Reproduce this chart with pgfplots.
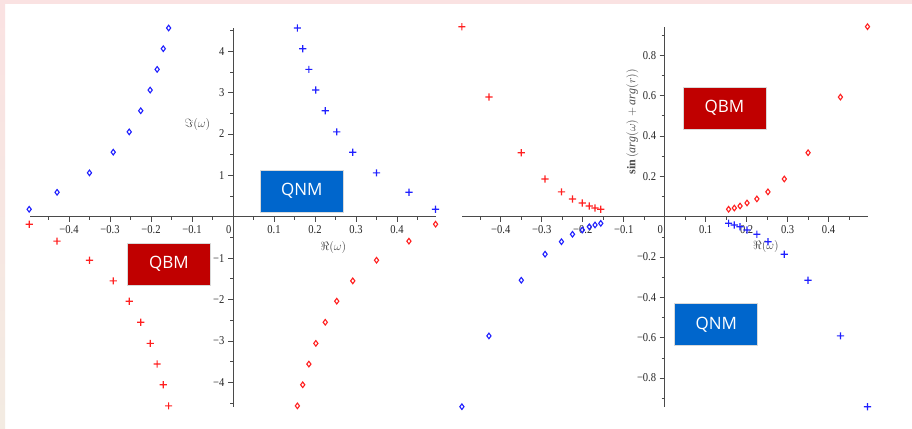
\documentclass[border=0pt]{standalone}
\usepackage{fontspec}
\usepackage{pgfplots}
\pgfplotsset{compat=1.18}
\setmainfont{Liberation Serif}
\newfontfamily\tickfont[FakeStretch=0.88]{Liberation Serif}
\newfontfamily\boxfont{Open Sans}

\definecolor{axisgray}{HTML}{4A4A4A}
\definecolor{bandpink}{HTML}{FAE2E2}
\definecolor{bandbeige}{HTML}{F3EBE2}
\definecolor{ptblue}{HTML}{2020FF}
\definecolor{ptred}{HTML}{FF2020}
\definecolor{qnmblue}{HTML}{0066CC}
\definecolor{qbmred}{HTML}{C00000}

% plus sign drawn as two filled bars
\pgfdeclareplotmark{fplus}{%
  \pgfpathrectangle{\pgfpoint{-\pgfplotmarksize}{-0.6pt}}{\pgfpoint{2\pgfplotmarksize}{1.2pt}}%
  \pgfpathrectangle{\pgfpoint{-0.6pt}{-\pgfplotmarksize}}{\pgfpoint{1.2pt}{2\pgfplotmarksize}}%
  \pgfusepathqfill}

\pgfplotsset{
  maple/.style={
    scale only axis, axis lines=middle,
    axis line style={draw=axisgray, line width=0.9pt, -},
    tick align=outside, major tick length=5pt, minor tick length=3pt,
    tick style={axisgray, line width=0.7pt},
    ticklabel style={font=\tickfont\fontsize{12}{12}\selectfont, text=black!85},
    clip=false,
  },
  dia/.style={only marks, color=#1, mark=diamond,
    mark options={draw=#1, fill=none, solid, line width=1.1pt}, mark size=2.8pt},
  crs/.style={only marks, color=#1, mark=fplus,
    mark options={fill=#1, draw=none}, mark size=3.6pt},
}

\begin{document}
\begin{tikzpicture}[x=1pt, y=1pt]
\path[use as bounding box] (0,0) rectangle (912,428);
\fill[white] (0,0) rectangle (912,428);
\fill[bandpink] (0,424) rectangle (912,428);
\shade[top color=bandpink, bottom color=bandbeige] (0,0) rectangle (5,424);

% left: imaginary vs real part
\begin{axis}[maple,
  at={(30pt,21.3pt)}, anchor=south west,
  width=406pt, height=378.7pt,
  xmin=-0.495, xmax=0.495, ymin=-4.59, ymax=4.56,
  xtick={-0.4,-0.3,-0.2,-0.1,0.1,0.2,0.3,0.4},
  xticklabels={−0.4,−0.3,−0.2,−0.1,0.1,0.2,0.3,0.4},
  minor xtick={-0.45,-0.35,-0.25,-0.15,-0.05,0.05,0.15,0.25,0.35,0.45},
  ytick={-4,-3,-2,-1,1,2,3,4},
  yticklabels={−4,−3,−2,−1,1,2,3,4},
  minor ytick={-4.5,-3.5,-2.5,-1.5,-0.5,0.5,1.5,2.5,3.5,4.5},
]
\addplot[dia=ptblue] coordinates {
  (-0.497,0.18) (-0.429,0.59) (-0.350,1.06) (-0.292,1.56) (-0.253,2.05)
  (-0.225,2.56) (-0.202,3.06) (-0.185,3.56) (-0.170,4.06) (-0.157,4.56)};
\addplot[crs=ptblue] coordinates {
  (0.494,0.18) (0.429,0.59) (0.350,1.06) (0.292,1.56) (0.253,2.05)
  (0.225,2.56) (0.202,3.06) (0.185,3.56) (0.170,4.06) (0.157,4.56)};
\addplot[crs=ptred] coordinates {
  (-0.497,-0.18) (-0.429,-0.59) (-0.350,-1.05) (-0.292,-1.55) (-0.253,-2.04)
  (-0.225,-2.55) (-0.202,-3.06) (-0.185,-3.56) (-0.170,-4.06) (-0.157,-4.57)};
\addplot[dia=ptred] coordinates {
  (0.494,-0.18) (0.429,-0.59) (0.350,-1.05) (0.292,-1.55) (0.253,-2.04)
  (0.225,-2.55) (0.202,-3.06) (0.185,-3.56) (0.170,-4.06) (0.157,-4.57)};
\node[anchor=north east, inner sep=0pt, font=\tickfont\fontsize{12}{12}\selectfont, text=black!85]
  at (axis cs:0,0) [xshift=-1.5pt, yshift=-9pt] {0};
\end{axis}

% right: sin(arg(omega)+arg(r)) vs real part
\begin{axis}[maple,
  at={(462.3pt,21.3pt)}, anchor=south west,
  width=406pt, height=379.4pt,
  xmin=-0.494, xmax=0.497, ymin=-0.942, ymax=0.939,
  xtick={-0.4,-0.3,-0.2,-0.1,0.1,0.2,0.3,0.4},
  xticklabels={−0.4,−0.3,−0.2,−0.1,0.1,0.2,0.3,0.4},
  minor xtick={-0.45,-0.35,-0.25,-0.15,-0.05,0.05,0.15,0.25,0.35,0.45},
  ytick={-0.8,-0.6,-0.4,-0.2,0.2,0.4,0.6,0.8},
  yticklabels={−0.8,−0.6,−0.4,−0.2,0.2,0.4,0.6,0.8},
  minor ytick={-0.9,-0.7,-0.5,-0.3,-0.1,0.1,0.3,0.5,0.7,0.9},
]
\addplot[crs=ptred] coordinates {
  (-0.495,0.942) (-0.429,0.593) (-0.350,0.317) (-0.292,0.187) (-0.252,0.123)
  (-0.225,0.088) (-0.201,0.068) (-0.184,0.053) (-0.170,0.043) (-0.156,0.037)};
\addplot[dia=ptred] coordinates {
  (0.495,0.942) (0.429,0.593) (0.350,0.317) (0.292,0.187) (0.252,0.123)
  (0.225,0.088) (0.201,0.068) (0.184,0.053) (0.170,0.043) (0.156,0.037)};
\addplot[dia=ptblue] coordinates {
  (-0.495,-0.942) (-0.429,-0.591) (-0.350,-0.315) (-0.292,-0.186) (-0.252,-0.124)
  (-0.225,-0.087) (-0.201,-0.066) (-0.184,-0.050) (-0.170,-0.041) (-0.156,-0.033)};
\addplot[crs=ptblue] coordinates {
  (0.495,-0.942) (0.429,-0.591) (0.350,-0.315) (0.292,-0.186) (0.252,-0.124)
  (0.225,-0.087) (0.201,-0.066) (0.184,-0.050) (0.170,-0.041) (0.156,-0.033)};
\node[anchor=north east, inner sep=0pt, font=\tickfont\fontsize{12}{12}\selectfont, text=black!85]
  at (axis cs:0,0) [xshift=-1.5pt, yshift=-9pt] {0};
\end{axis}

% axis labels
\node[text=axisgray, font=\fontsize{13}{13}\selectfont] at (197.5,303) {$\Im(\omega)$};
\node[text=axisgray, font=\fontsize{12}{12}\selectfont] at (333.5,180) {$\Re(\omega)$};
\node[text=axisgray, font=\fontsize{12}{12}\selectfont] at (766,181.3) {$\Re(\omega)$};
\node[text=axisgray, font=\fontsize{12}{12}\selectfont, rotate=90] at (632.3,306.3)
  {$\mathbf{sin}\left(\mathit{arg}(\omega)+\mathit{arg}(r)\right)$};

% mode boxes
\tikzset{modebox/.style={draw=black!15, line width=0.8pt, minimum width=83pt, minimum height=41.7pt,
  inner sep=0pt, text=white, font=\boxfont\fontsize{17}{17}\selectfont}}
\node[modebox, fill=qnmblue] at (301.8,236.8) {QNM};
\node[modebox, fill=qbmred] at (169,163.8) {QBM};
\node[modebox, fill=qbmred] at (724.5,319.8) {QBM};
\node[modebox, fill=qnmblue] at (716.2,103.5) {QNM};
\end{tikzpicture}
\end{document}
